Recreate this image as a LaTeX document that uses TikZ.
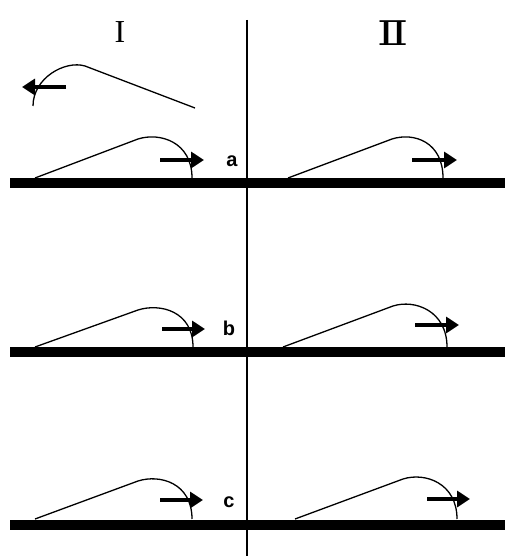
\documentclass[tikz,border=0pt]{standalone}
\usepackage{fontspec}
\usepackage{graphicx}
\setmainfont{Liberation Serif}
\newfontfamily\lblfont{Liberation Sans}
\newfontfamily\numfont{DejaVu Serif}
\usetikzlibrary{arrows.meta}
\tikzset{
  bar/.style={line width=10pt},
  divider/.style={line width=1.5pt},
  trail/.style={line width=1.3pt},
  push/.style={line width=4pt,-{Triangle[length=13pt,width=16pt]}},
  roman/.style={font=\fontsize{32}{34}\selectfont},
  letter/.style={font=\lblfont\bfseries\fontsize{20}{22}\selectfont}
}
\begin{document}
\begin{tikzpicture}[x=1pt,y=-1pt]
\useasboundingbox (0,0) rectangle (505,556);
% divider and bars
\coordinate (vt) at (247,20);
\coordinate (vb) at (247,556);
\draw[divider] (vt) -- (vb);
\foreach \yb/\nm in {183/a,352/b,525/c}{
  \coordinate (bl\nm) at (10,\yb);
  \coordinate (br\nm) at (505,\yb);
  \draw[bar] (bl\nm) -- (br\nm);
}
% headings
\node[roman] (h1) at (120,32) {I};
\node[roman,font=\numfont\fontsize{34}{36}\selectfont] (h2) at (393,33) {\scalebox{1.35}[1]{Ⅱ}};
% top left backwards trajectory
\coordinate (ts) at (195,108);
\coordinate (tp) at (85,66);
\coordinate (te) at (33,106);
\draw[trail] (ts) -- (tp) .. controls (65,60) and (33,78) .. (te);
\coordinate (tas) at (66,87);
\coordinate (tae) at (22,87);
\draw[push] (tas) -- (tae);
% trajectories: start x, bar-top y, peak x, peak y, end x, arrow start, arrow end, arrow y
\foreach \sx/\yb/\px/\py/\ex/\as/\ae/\ay/\id in {
  35/178/138/139/192/160/204/160/aL,
  288/178/392/139/443/412/457/160/aR,
  35/347/138/310/193/162/205/329/bL,
  283/347/393/306/447/415/459/325/bR,
  35/519/138/481/192/160/203/500/cL,
  295/519/403/479/457/427/470/499/cR}{
  \coordinate (s\id) at (\sx,\yb);
  \coordinate (p\id) at (\px,\py);
  \coordinate (e\id) at (\ex,\yb);
  \draw[trail] (s\id) -- (p\id) .. controls ++(22,-7) and ++(0,-36) .. (e\id);
  \coordinate (as\id) at (\as,\ay);
  \coordinate (ae\id) at (\ae,\ay);
  \draw[push] (as\id) -- (ae\id);
}
% labels
\node[letter] (la) at (232,161) {a};
\node[letter] (lb) at (229,328) {b};
\node[letter] (lc) at (229,502) {c};
\end{tikzpicture}
\end{document}
